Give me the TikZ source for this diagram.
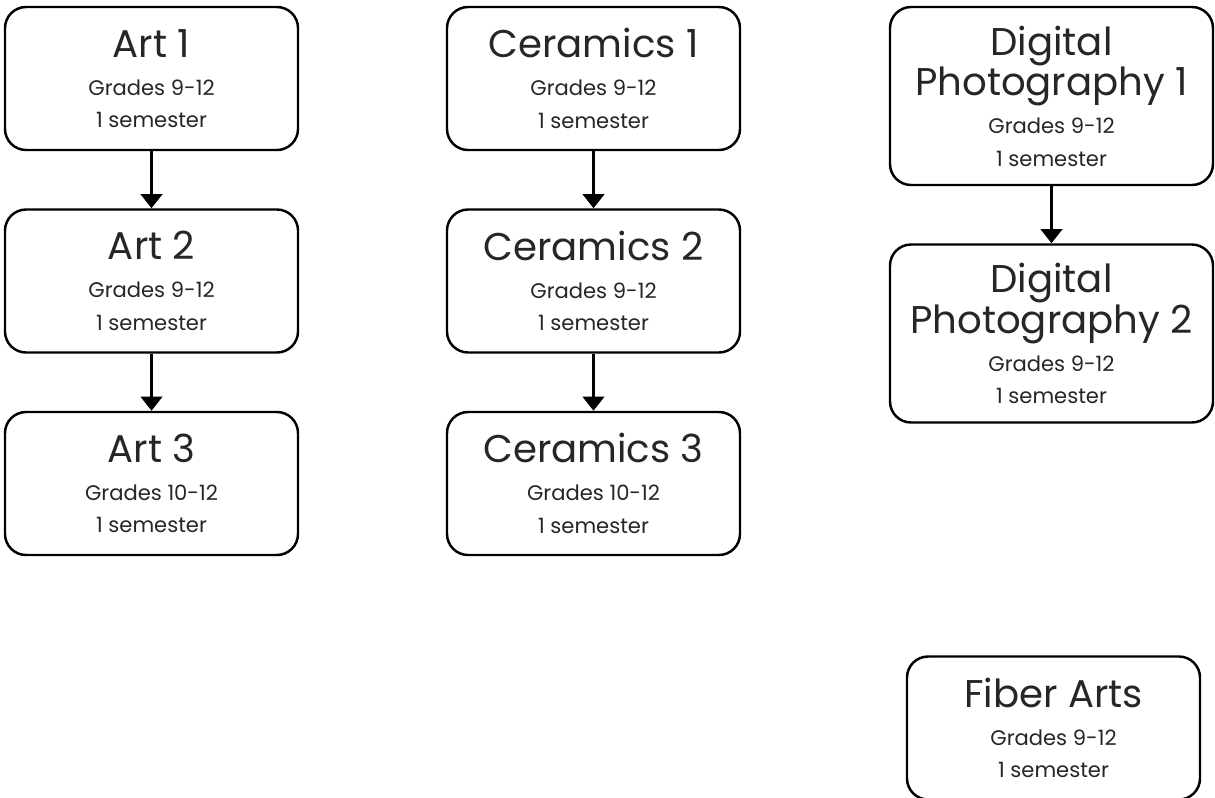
\documentclass[tikz,border=0pt]{standalone}
\usepackage{fontspec}
\setmainfont{Poppins}
\usepackage{tikz}
\usetikzlibrary{arrows.meta,positioning,calc}
\newcommand{\ttl}{\fontsize{22}{19}\selectfont}
\newcommand{\sml}{\fontsize{12}{18.5}\selectfont}
\newcommand{\crs}[2]{\ttl #1\\[3pt]\sml Grades #2\\1 semester}
\newcommand{\crstwo}[3]{\ttl #1\\\ttl #2\\[3pt]\sml Grades #3\\1 semester}
\begin{document}
\begin{tikzpicture}[x=0.02cm,y=-0.02cm,
course/.style={draw,rounded corners=12pt,line width=1.4pt,align=center,
  minimum width=293*0.02cm,minimum height=143*0.02cm,inner sep=0pt,
  font=\sml,text=black!85},
tall/.style={course,minimum width=323*0.02cm,minimum height=178*0.02cm},
link/.style={line width=2.2pt,-{Triangle[width=12pt,length=8pt]}}]
\clip (0,0) rectangle (1215,798);
\fill[white] (0,0) rectangle (1215,798);
% art column
\node (art1) at (151.5,78.5)[course] {\crs{Art 1}{9-12}};
\node (art2) at (151.5,281)[course] {\crs{Art 2}{9-12}};
\node (art3) at (151.5,483.5)[course] {\crs{Art 3}{10-12}};
% ceramics column
\node (cer1) at (593.5,78.5)[course] {\crs{Ceramics 1}{9-12}};
\node (cer2) at (593.5,281)[course] {\crs{Ceramics 2}{9-12}};
\node (cer3) at (593.5,483.5)[course] {\crs{Ceramics 3}{10-12}};
% photography and fiber
\node (dp1) at (1051.5,96)[tall] {\crstwo{Digital}{Photography 1}{9-12}};
\node (dp2) at (1051.5,333.5)[tall] {\crstwo{Digital}{Photography 2}{9-12}};
\node (fiber) at (1053.5,728)[course] {\crs{Fiber Arts}{9-12}};
\draw[link] (art1) -- (art2);
\draw[link] (art2) -- (art3);
\draw[link] (cer1) -- (cer2);
\draw[link] (cer2) -- (cer3);
\draw[link] (dp1) -- (dp2);
\end{tikzpicture}
\end{document}
